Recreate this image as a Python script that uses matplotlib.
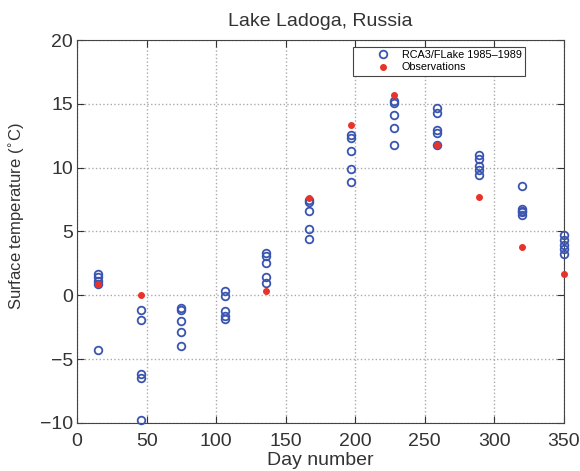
import matplotlib.pyplot as plt

plt.rcParams['font.family'] = ['Liberation Sans', 'DejaVu Sans']

# model output, 5 years per date (RCA3/FLake 1985-1989)
model_days = [15]*5 + [46]*5 + [75]*5 + [106]*5 + [136]*5 + [167]*5 + \
             [197]*5 + [228]*5 + [259]*5 + [289]*5 + [320]*5 + [350]*5
model_temp = [1.7, 1.4, 1.1, 0.9, -4.25,
              -1.15, -1.9, -6.15, -6.5, -9.8,
              -1.0, -1.15, -2.0, -2.85, -3.95,
              0.35, -0.05, -1.2, -1.6, -1.85,
              3.3, 3.05, 2.5, 1.45, 1.0,
              7.5, 7.3, 6.6, 5.2, 4.4,
              12.55, 12.3, 11.3, 9.9, 8.85,
              15.2, 15.05, 14.1, 13.1, 11.8,
              14.7, 14.3, 12.95, 12.7, 11.8,
              11.0, 10.7, 10.1, 9.8, 9.4,
              8.6, 6.75, 6.6, 6.55, 6.3,
              4.75, 4.3, 3.95, 3.6, 3.2]

obs_days = [15, 46, 136, 167, 197, 228, 259, 289, 320, 350]
obs_temp = [0.85, 0.0, 0.35, 7.6, 13.35, 15.7, 11.8, 7.7, 3.8, 1.65]

fig = plt.figure(figsize=(5.8, 4.71), dpi=100)
ax = fig.add_axes([0.133, 0.102, 0.839, 0.813])

ax.plot(model_days, model_temp, 'o', mfc='none', mec='#3a55b0', mew=1.3, ms=5.5,
        linestyle='none', clip_on=False, zorder=3, label='RCA3/FLake 1985\u20131989')
ax.plot(obs_days, obs_temp, '.', color='#e8332a', ms=8, linestyle='none',
        clip_on=False, zorder=4, label='Observations')

ax.set_xlim(0, 350)
ax.set_ylim(-10, 20)
ax.set_xticks(range(0, 351, 50))
ax.set_yticks(range(-10, 21, 5))
ax.grid(True, linestyle=':', color='#aaaaaa', linewidth=1.0)
ax.tick_params(direction='in', top=True, right=True, labelsize=14,
               colors='#333333', length=5)
ax.tick_params(axis='x', pad=7)
ax.tick_params(axis='y', pad=3)
for s in ax.spines.values():
    s.set_color('#444444')

ax.set_xlabel('Day number', fontsize=14, color='#333333', labelpad=2)
ax.set_ylabel('Surface temperature ($^{\\circ}$C)', fontsize=12, color='#333333')
ax.yaxis.set_label_coords(-0.103, 0.54)
ax.set_title('Lake Ladoga, Russia', fontsize=14, color='#333333', pad=10)

leg = ax.legend(loc='upper right', bbox_to_anchor=(0.92, 0.982), fontsize=7.8,
                frameon=True, fancybox=False, edgecolor='#444444', framealpha=1,
                borderpad=0.3, handlelength=5, handletextpad=-0.8,
                labelspacing=0.2, borderaxespad=0)
leg.get_frame().set_linewidth(0.8)

fig.savefig('out.png', dpi=100)
